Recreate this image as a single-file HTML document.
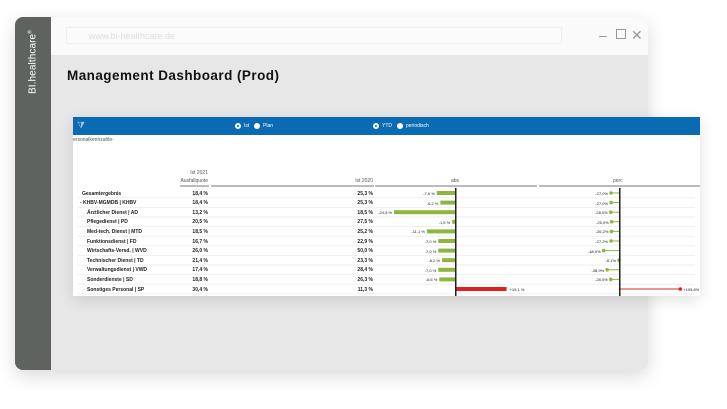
<!DOCTYPE html>
<html><head><meta charset="utf-8"><style>
*{margin:0;padding:0;box-sizing:border-box}
body{width:727px;height:409px;background:#fff;position:relative;overflow:hidden;font-family:"Liberation Sans",sans-serif}
.win{position:absolute;left:15px;top:17px;width:633px;height:353px;border-radius:8px;background:#e7e7e7;box-shadow:0 6px 18px rgba(0,0,0,.15);overflow:hidden}
.side{position:absolute;left:0;top:0;width:36px;height:100%;background:#5f635f}
.brand{position:absolute;left:18px;top:45px;transform:translate(-50%,-50%) rotate(-90deg);color:#fff;font-size:10px;white-space:nowrap;letter-spacing:.1px}
.tbar{position:absolute;left:36px;top:0;right:0;height:38px;background:#fafafa}
.url{position:absolute;left:15px;top:10px;width:496px;height:17px;border:1px solid #eee;background:#fbfbfb;color:#ddd;font-size:9px;padding:3px 0 0 22px}
.ctl{position:absolute;top:10px;font-size:14px;color:#999;line-height:16px}
.title{position:absolute;left:52px;top:51px;font-size:13.5px;font-weight:bold;color:#111;letter-spacing:.45px}
.panel{position:absolute;left:73px;top:117px;width:627px;height:179px;background:#fff;box-shadow:0 4px 14px rgba(0,0,0,.12)}
.hdr{position:absolute;left:0;top:0;width:100%;height:18px;background:#0a6bb3}
.t{position:absolute;font-size:5px;color:#222;white-space:nowrap}
.b{font-weight:bold}
.rad{position:absolute;top:6px;width:6px;height:6px;border-radius:50%;background:#fff}
.rad.on{border:1.5px solid #fff;background:#0a6bb3;box-shadow:inset 0 0 0 1px #fff}
.hl{position:absolute;height:2px;background:#bbb}
</style></head><body>
<div class="win">
 <div class="side"><div class="brand">BI.healthcare<sup style="font-size:5px">®</sup></div></div>
 <div class="tbar"><div class="url">www.bi-healthcare.de</div>
  <div class="ctl" style="left:548px">–</div><div class="ctl" style="left:565px;top:12px;width:10px;height:10px;border:1px solid #999"></div><div class="ctl" style="left:580px">✕</div></div>
 <div class="title">Management Dashboard (Prod)</div>
</div>
<div class="panel">
 <div class="hdr">
  <div style="position:absolute;left:4px;top:3px;color:#9cc3e6;font-size:9px">⧩</div>
  <div class="rad on" style="left:162px"></div><div class="t" style="left:171px;top:6px;color:#fff">Ist</div>
  <div class="rad" style="left:181px"></div><div class="t" style="left:190px;top:6px;color:#fff">Plan</div>
  <div class="rad on" style="left:300px"></div><div class="t" style="left:309px;top:6px;color:#fff">YTD</div>
  <div class="rad" style="left:324px"></div><div class="t" style="left:333px;top:6px;color:#fff">periodisch</div>
 </div>
 <div class="t" style="left:0;top:20px;color:#555">ersonalkennzahle-</div>
 <div class="t" style="left:100px;width:35px;text-align:right;top:53px;color:#555">Ist 2021</div>
 <div class="t" style="left:100px;width:35px;text-align:right;top:61px;color:#555">Ausfallquote</div>
 <div class="t" style="left:250px;width:50px;text-align:right;top:61px;color:#555">Ist 2020</div>
 <div class="t" style="left:378px;top:61px;color:#555">abs</div>
 <div class="t" style="left:540px;top:61px;color:#555">perc</div>
 <div class="hl" style="left:107px;width:29px;top:68px"></div>
 <div class="hl" style="left:138px;width:163px;top:68px"></div>
 <div class="hl" style="left:302px;width:162px;top:68px"></div>
 <div class="hl" style="left:466px;width:161px;top:68px"></div>
 <svg width="627" height="179" style="position:absolute;left:0;top:0" id="s"></svg>
 <div id="rows"></div>
</div>
<script>
var rows=[["Gesamtergebnis",0,"18,4 %","25,3 %",-7.6,"-7,6 %",-27,"-27,0%"],
["- KHBV-MGMDB | KHBV",-1,"18,4 %","25,3 %",-6.2,"-6,2 %",-27,"-27,0%"],
["Ärztlicher Dienst | AD",1,"13,2 %","18,5 %",-24.5,"-24,5 %",-28,"-28,0%"],
["Pflegedienst | PD",1,"20,5 %","27,5 %",-1.5,"-1,5 %",-25,"-25,0%"],
["Med-tech. Dienst | MTD",1,"18,5 %","25,2 %",-11.5,"-11,1 %",-26,"-26,2%"],
["Funktionsdienst | FD",1,"16,7 %","22,9 %",-7,"-7,0 %",-27,"-27,2%"],
["Wirtschafts-Versd. | WVD",1,"26,0 %","50,0 %",-7,"-7,0 %",-48,"-48,0%"],
["Technischer Dienst | TD",1,"21,4 %","23,3 %",-5.5,"-6,2 %",-3,"-6,1%"],
["Verwaltungsdienst | VWD",1,"17,4 %","28,4 %",-7,"-7,0 %",-38.9,"-38,9%"],
["Sonderdienste | SD",1,"18,8 %","26,3 %",-6.6,"-6,6 %",-28,"-28,0%"],
["Sonstiges Personal | SP",1,"30,4 %","11,3 %",20,"+19,1 %",105.8,"+105,8%"]];
var h="",s="";var ax=383,px=547;
rows.forEach(function(r,i){var y=76+i*9.6;
 h+='<div class="t b" style="left:'+(r[1]==1?14:r[1]==-1?7:9)+'px;top:'+(y-2.5)+'px">'+r[0]+'</div>';
 h+='<div class="t b" style="left:100px;width:35px;text-align:right;top:'+(y-2.5)+'px">'+r[2]+'</div>';
 h+='<div class="t b" style="left:250px;width:50px;text-align:right;top:'+(y-2.5)+'px">'+r[3]+'</div>';
 s+='<rect x="5" y="'+(y+4.3)+'" width="617" height="1" fill="#eee"/>';
 var w=r[4]*2.53;
 if(w<0){s+='<rect x="'+(ax+w)+'" y="'+(y-2)+'" width="'+(-w)+'" height="4" fill="#8cb63c"/>';
  h+='<div class="t" style="left:'+(ax+w-30)+'px;width:28px;text-align:right;top:'+(y-2)+'px;font-size:4px">'+r[5]+'</div>';}
 else{s+='<rect x="'+ax+'" y="'+(y-2)+'" width="'+w+'" height="4" fill="#e02020"/>';
  h+='<div class="t" style="left:'+(ax+w+3)+'px;top:'+(y-2)+'px;font-size:4px">'+r[5]+'</div>';}
 var pxv=r[6]<0?px+r[6]*(r[6]<-40?0.34:0.33):px+r[6]*0.57;var c=r[6]<0?"#8cb63c":"#e02020";
 s+='<line x1="'+px+'" x2="'+pxv+'" y1="'+y+'" y2="'+y+'" stroke="'+c+'" stroke-width="1"/><circle cx="'+pxv+'" cy="'+y+'" r="1.8" fill="'+c+'"/>';
 if(r[6]<0)h+='<div class="t" style="left:'+(pxv-30)+'px;width:27px;text-align:right;top:'+(y-2)+'px;font-size:4px">'+r[7]+'</div>';
 else h+='<div class="t" style="left:'+(pxv+3)+'px;top:'+(y-2)+'px;font-size:4px">'+r[7]+'</div>';
});
s+='<rect x="'+(ax-1)+'" y="71" width="1.5" height="108" fill="#222"/><rect x="'+(px-1)+'" y="71" width="1.5" height="108" fill="#222"/>';
document.getElementById("s").innerHTML=s;document.getElementById("rows").innerHTML=h;
</script>
</body></html>
